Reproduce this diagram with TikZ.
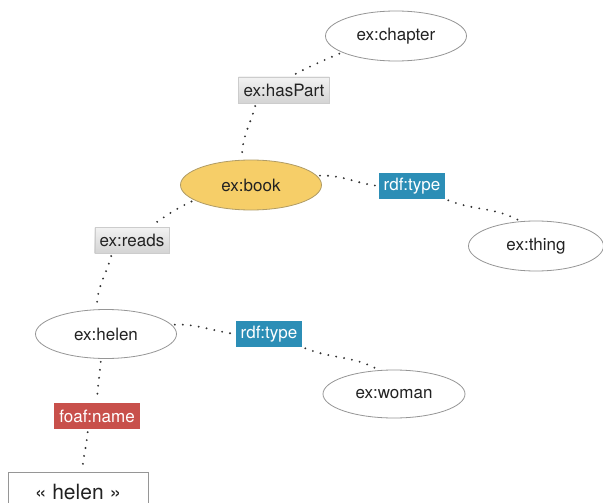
\documentclass[tikz,border=0pt]{standalone}
\usepackage{fontspec}
\setmainfont{TeX Gyre Heros}
\usetikzlibrary{shapes.geometric}
\definecolor{bookfill}{RGB}{246,206,104}
\definecolor{bookline}{RGB}{176,156,102}
\definecolor{tealc}{RGB}{44,142,182}
\definecolor{redc}{RGB}{200,80,75}
\definecolor{ellline}{RGB}{150,150,150}
\definecolor{txt}{RGB}{34,34,34}
\definecolor{dotc}{RGB}{50,50,50}
\tikzset{
  res/.style={ellipse, draw=ellline, line width=0.8pt, fill=white, minimum width=141pt, minimum height=50pt, inner sep=0pt, text=txt, font=\fontsize{17}{20}\selectfont},
  lbl/.style={rectangle, inner xsep=5pt, inner ysep=0pt, minimum height=26pt, font=\fontsize{17}{20}\selectfont},
  graylbl/.style={lbl, top color=white!95!black, bottom color=white!83!black, draw=white!80!black, line width=0.3pt, text=txt},
  teallbl/.style={lbl, fill=tealc, text=white},
  redlbl/.style={lbl, fill=redc, text=white},
  littext/.style={inner sep=1pt, text=txt, font=\fontsize{21}{24}\selectfont},
  litframe/.style={draw=ellline, line width=0.8pt, fill=white},
  dotedge/.style={draw=dotc, line width=2.1pt, line cap=round, dash pattern=on 0pt off 8pt, shorten <=3pt, shorten >=3pt}
}
\begin{document}
\begin{tikzpicture}[x=1pt,y=1pt]
\clip (0,0) rectangle (603,-503);
\fill[white] (0,0) rectangle (603,-503);
\node[res] (chapter) at (396,-36) {ex:chapter};
\node[graylbl] (hasPart) at (284,-90) {ex:hasPart};
\node[res, fill=bookfill, draw=bookline] (book) at (251,-185) {ex:book};
\node[teallbl] (rdfa) at (412,-186) {rdf:type};
\node[res, minimum width=135pt] (thing) at (536,-246) {ex:thing};
\node[graylbl] (reads) at (132,-240) {ex:reads};
\node[res, minimum height=49pt] (helen) at (106,-334) {ex:helen};
\node[teallbl] (rdfb) at (269,-334) {rdf:type};
\node[res, minimum width=142pt, minimum height=48pt] (woman) at (394,-394) {ex:woman};
\node[redlbl] (foaf) at (97,-416) {foaf:name};
\path[litframe] (8,-512) |- (148,-472.5) -- (148,-512);
\coordinate (littop) at (82,-472.5);
\node[littext, anchor=base] (lit) at (78,-499.5) {« helen »};

\draw[dotedge] (chapter.197) to[out=203,in=28] ([xshift=6pt]hasPart.north);
\draw[dotedge] ([xshift=-28pt]hasPart.south) to[out=-105,in=90] ([xshift=-9pt]book.north);
\draw[dotedge] (book.8) to[out=2,in=172] (rdfa.west);
\draw[dotedge] (rdfa.south east) to[out=-22,in=152] (thing.122);
\draw[dotedge] (book.195) to[out=205,in=35] ([xshift=18pt]reads.north);
\draw[dotedge] ([xshift=-20pt]reads.south) to[out=-105,in=90] ([xshift=-9pt]helen.north);
\draw[dotedge] (helen.8) to[out=2,in=172] (rdfb.west);
\draw[dotedge] (rdfb.south east) to[out=-22,in=152] (woman.122);
\draw[dotedge] ([xshift=-5pt]helen.south) to[out=-95,in=88] (foaf.north);
\draw[dotedge] ([xshift=-9pt]foaf.south) to[out=-95,in=85] (littop);
\end{tikzpicture}
\end{document}
